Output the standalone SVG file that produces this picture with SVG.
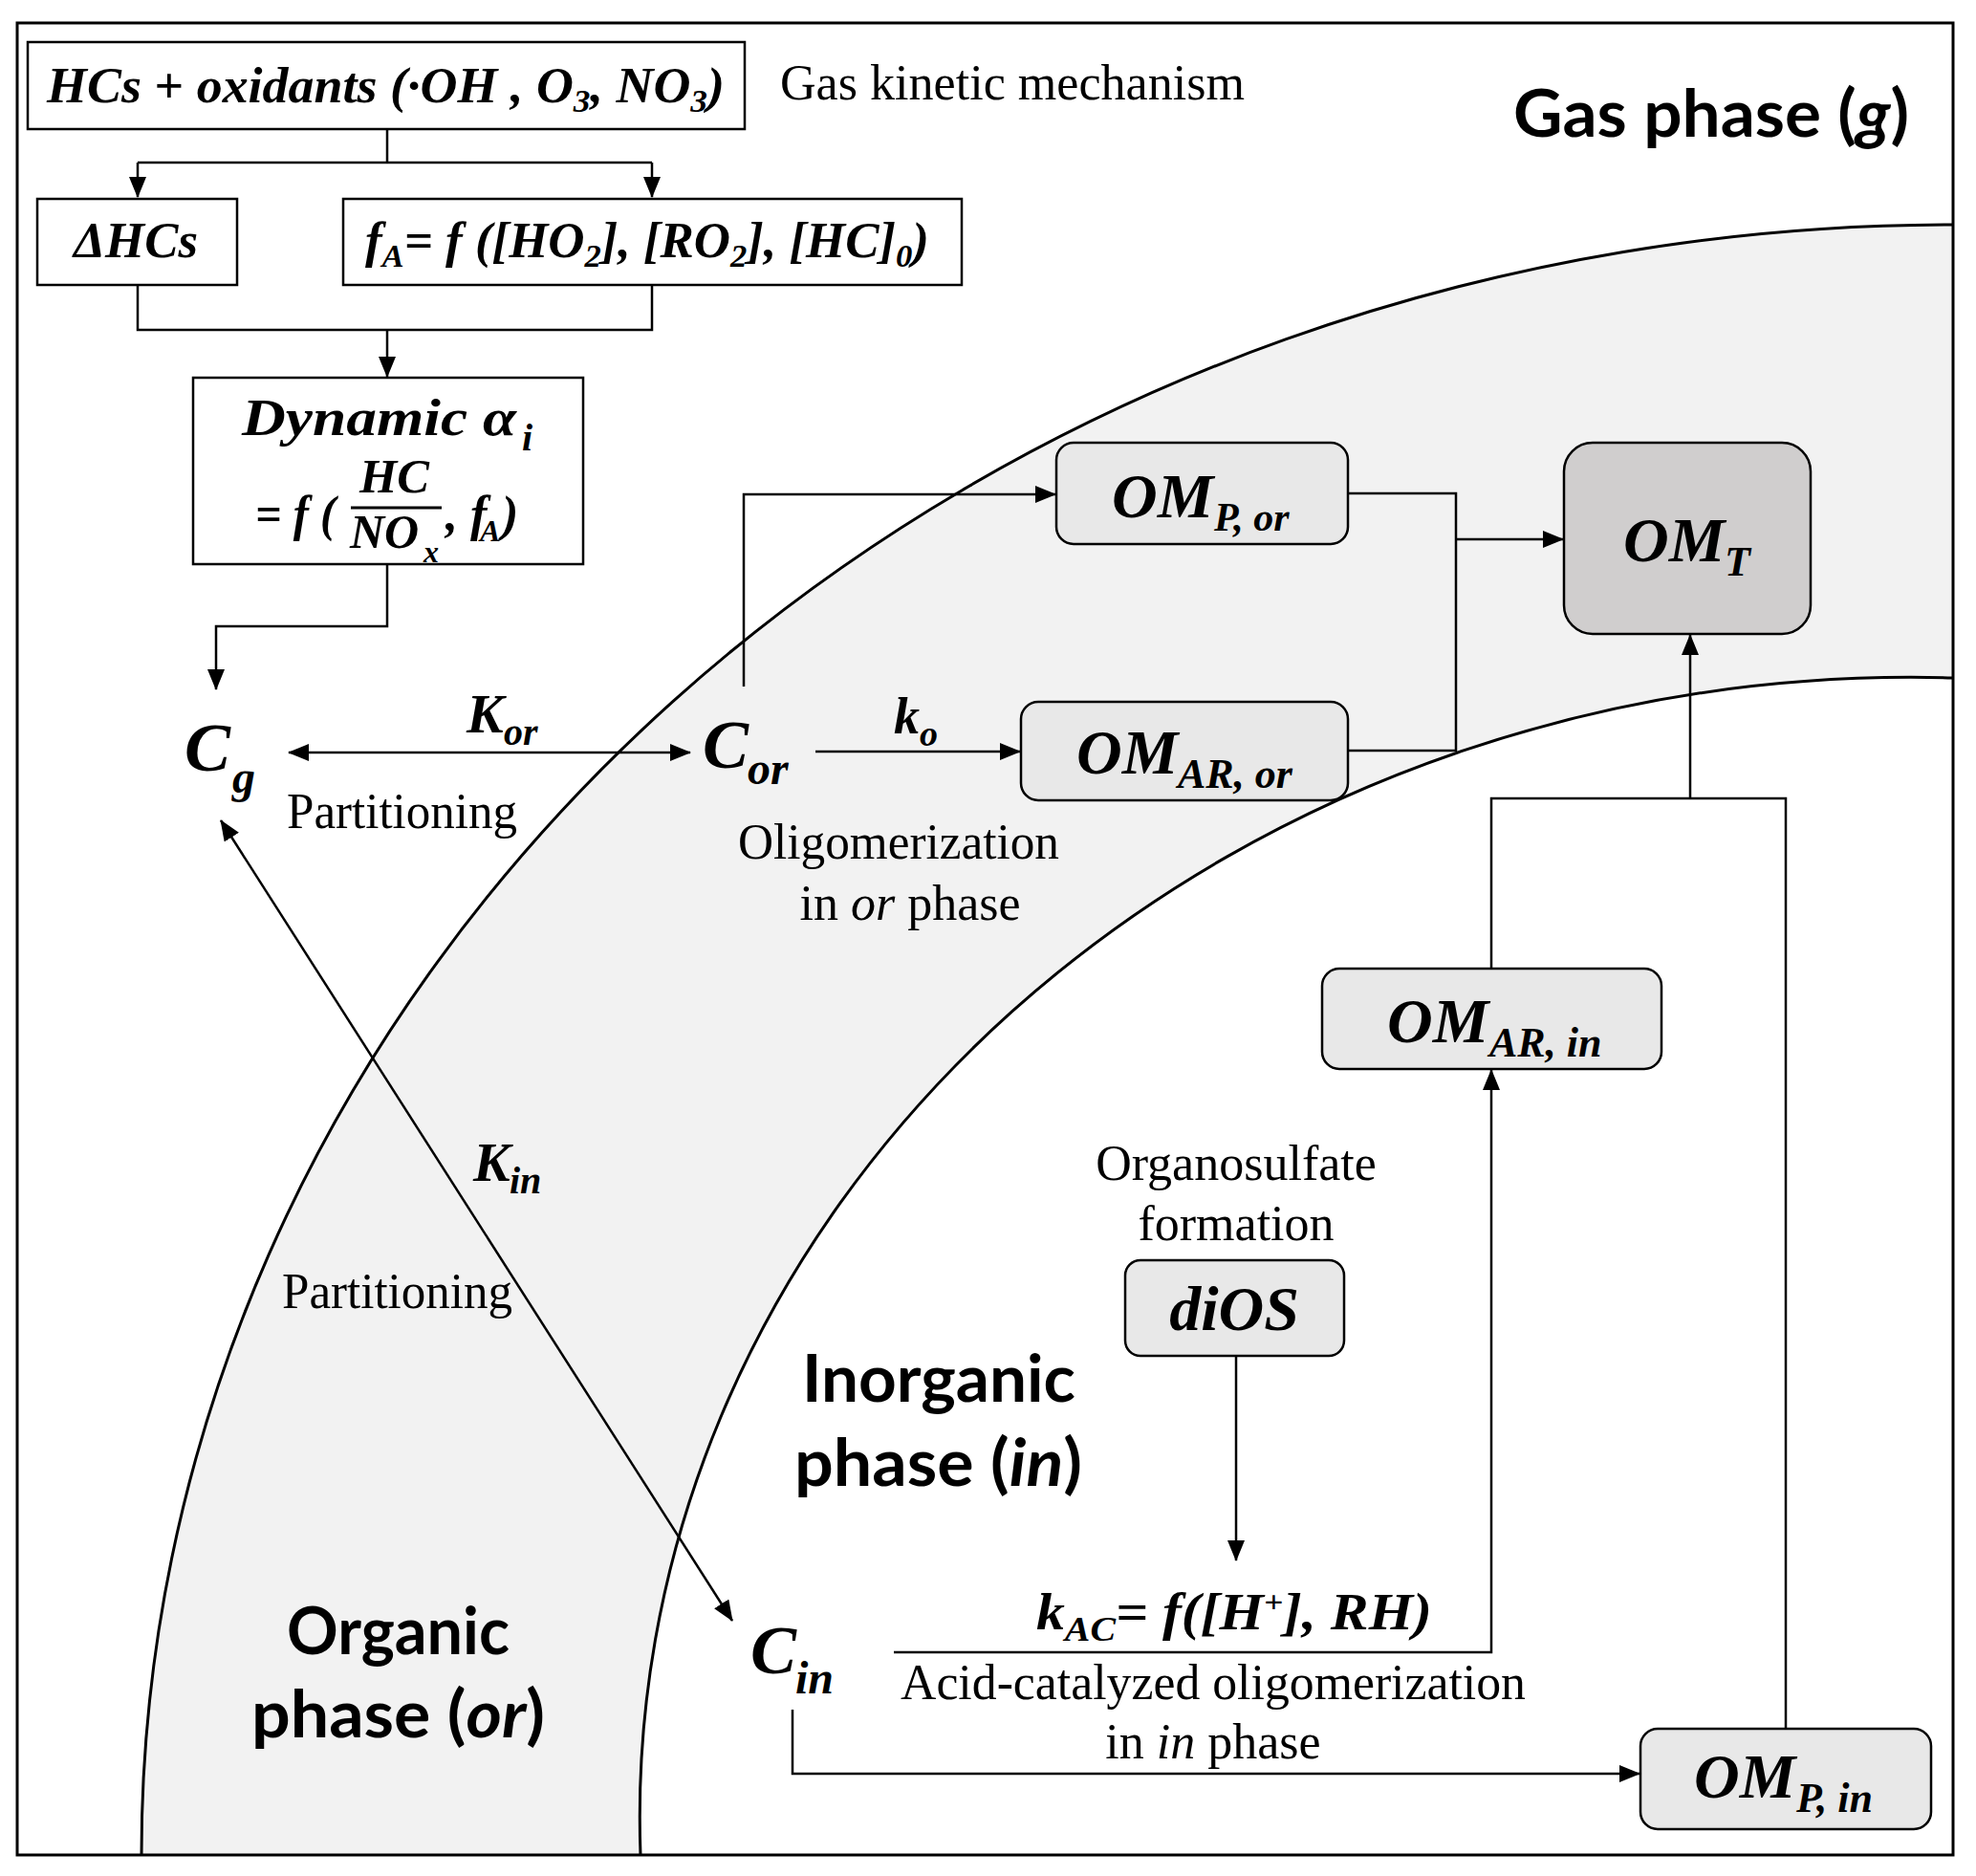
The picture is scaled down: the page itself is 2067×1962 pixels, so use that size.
<svg xmlns="http://www.w3.org/2000/svg" width="2067" height="1962" viewBox="0 0 2067 1962">
<defs>
<style>
.ser{font-family:"Liberation Serif","Times New Roman",serif;fill:#000}
.bi{font-family:"Liberation Serif","Times New Roman",serif;font-weight:bold;font-style:italic;fill:#000}
.sans{font-family:Lato,"Open Sans","Liberation Sans",sans-serif;font-weight:bold;fill:#000}
.box{fill:#fff;stroke:#000;stroke-width:2.5}
.om{fill:#e8e8e8;stroke:#000;stroke-width:2.5}
.ln{fill:none;stroke:#000;stroke-width:2.5}
.arc{fill:none;stroke:#000;stroke-width:3}
</style>
<marker id="ah" markerUnits="userSpaceOnUse" markerWidth="22" markerHeight="18" refX="21" refY="9" orient="auto-start-reverse">
<path d="M0,0 L22,9 L0,18 Z" fill="#000"/>
</marker>
</defs>
<rect x="0" y="0" width="2067" height="1962" fill="#fff"/>
<g id="phases">
<path d="M148,1940 A1895,1705 0 0 1 2043,235 L2043,709 A1331,1192 0 0 0 670,1940 Z" fill="#f2f2f2"/>
<path class="arc" d="M148,1940 A1895,1705 0 0 1 2043,235"/>
<path class="arc" d="M670,1940 A1331,1192 0 0 1 2043,709"/>
<rect x="18" y="24" width="2025" height="1916" fill="none" stroke="#000" stroke-width="3"/>
<text class="sans" x="1583" y="143" font-size="68" textLength="414" lengthAdjust="spacingAndGlyphs">Gas phase (<tspan font-style="italic">g</tspan>)</text>
<text class="sans" x="300" y="1730" font-size="68" textLength="233" lengthAdjust="spacingAndGlyphs">Organic</text>
<text class="sans" x="263" y="1817" font-size="68" textLength="307" lengthAdjust="spacingAndGlyphs">phase (<tspan font-style="italic">or</tspan>)</text>
<text class="sans" x="839" y="1466" font-size="68" textLength="286" lengthAdjust="spacingAndGlyphs">Inorganic</text>
<text class="sans" x="831" y="1554" font-size="68" textLength="301" lengthAdjust="spacingAndGlyphs">phase (<tspan font-style="italic">in</tspan>)</text>
</g>
<g id="connectors">
<path class="ln" d="M405,135 V170 M144,170 H682"/>
<path class="ln" d="M144,170 V206" marker-end="url(#ah)"/>
<path class="ln" d="M682,170 V206" marker-end="url(#ah)"/>
<path class="ln" d="M144,298 V345 H682 V298"/>
<path class="ln" d="M405,345 V394" marker-end="url(#ah)"/>
<path class="ln" d="M405,590 V655 H226 V721" marker-end="url(#ah)"/>
<path class="ln" d="M302,787 H722" marker-start="url(#ah)" marker-end="url(#ah)"/>
<path class="ln" d="M778,718 V517 H1104" marker-end="url(#ah)"/>
<path class="ln" d="M853,786 H1067" marker-end="url(#ah)"/>
<path class="ln" d="M1410,516 H1523 V785 H1410"/>
<path class="ln" d="M1523,564 H1635" marker-end="url(#ah)"/>
<path class="ln" d="M1768,835 V664" marker-end="url(#ah)"/>
<path class="ln" d="M1560,1013 V835 H1868 V1808"/>
<path class="ln" d="M935,1728 H1560 V1119" marker-end="url(#ah)"/>
<path class="ln" d="M1293,1418 V1632" marker-end="url(#ah)"/>
<path class="ln" d="M829,1788 V1855 H1715" marker-end="url(#ah)"/>
<path class="ln" d="M231,858 L766,1695" marker-start="url(#ah)" marker-end="url(#ah)"/>
</g>
<g id="n-hcs">
<rect class="box" x="29" y="44" width="750" height="91"/>
<text class="bi" x="49" y="107" font-size="52" textLength="709" lengthAdjust="spacingAndGlyphs">HCs <tspan font-style="normal">+</tspan> oxidants (·OH , O<tspan font-size="34" dy="10">3</tspan><tspan dy="-10">, NO</tspan><tspan font-size="34" dy="10">3</tspan><tspan dy="-10">)</tspan></text>
</g>
<g id="lbl-gkm"><text class="ser" x="816" y="104" font-size="52" textLength="486" lengthAdjust="spacingAndGlyphs">Gas kinetic mechanism</text></g>
<g id="n-dhcs">
<rect class="box" x="39" y="208" width="209" height="90"/>
<text class="bi" x="77" y="269" font-size="52" textLength="130" lengthAdjust="spacingAndGlyphs">ΔHCs</text>
</g>
<g id="n-fa">
<rect class="box" x="359" y="208" width="647" height="90"/>
<text class="bi" x="382" y="269" font-size="52" textLength="590" lengthAdjust="spacingAndGlyphs">f<tspan font-size="34" dy="10">A</tspan><tspan dy="-10">= f ([HO</tspan><tspan font-size="34" dy="10">2</tspan><tspan dy="-10">], [RO</tspan><tspan font-size="34" dy="10">2</tspan><tspan dy="-10">], [HC]</tspan><tspan font-size="34" dy="10">0</tspan><tspan dy="-10">)</tspan></text>
</g>
<g id="n-dyn">
<rect class="box" x="202" y="395" width="408" height="195"/>
<text class="bi" x="253" y="455" font-size="54" textLength="287" lengthAdjust="spacingAndGlyphs">Dynamic α</text>
<text class="bi" x="546" y="471" font-size="40">i</text>
<text class="bi" x="267" y="555" font-size="52" textLength="84" lengthAdjust="spacingAndGlyphs">= f (</text>
<text class="bi" x="376" y="515" font-size="50" textLength="73" lengthAdjust="spacingAndGlyphs">HC</text>
<line x1="367" y1="531" x2="462" y2="531" stroke="#000" stroke-width="3"/>
<text class="bi" x="366" y="573" font-size="50">NO<tspan x="443" dy="15" font-size="32">x</tspan></text>
<text class="bi" x="466" y="555" font-size="52">, f<tspan x="502" dy="11" font-size="32">A</tspan><tspan x="525" dy="-11" font-size="52">)</tspan></text>
</g>
<g id="n-cg">
<text class="bi" x="193" y="806" font-size="72">C</text>
<text class="bi" x="243" y="829" font-size="48">g</text>
</g>
<g id="lbl-kor">
<text class="bi" x="488" y="766" font-size="58">K</text>
<text class="bi" x="527" y="779" font-size="40">or</text>
<text class="ser" x="300" y="866" font-size="52" textLength="241" lengthAdjust="spacingAndGlyphs">Partitioning</text>
</g>
<g id="n-cor">
<text class="bi" x="735" y="803" font-size="72">C</text>
<text class="bi" x="782" y="820" font-size="48">or</text>
</g>
<g id="lbl-ko">
<text class="bi" x="935" y="767" font-size="54">k</text>
<text class="bi" x="962" y="780" font-size="38">o</text>
<text class="ser" x="940" y="898" font-size="52" text-anchor="middle" textLength="336" lengthAdjust="spacingAndGlyphs">Oligomerization</text>
<text class="ser" x="952" y="962" font-size="52" text-anchor="middle">in <tspan font-style="italic">or</tspan> phase</text>
</g>
<g id="n-omp-or">
<rect class="om" x="1105" y="463" width="305" height="106" rx="18"/>
<text class="bi" x="1163" y="541" font-size="66">OM</text>
<text class="bi" x="1270" y="555" font-size="42">P, or</text>
</g>
<g id="n-omar-or">
<rect class="om" x="1068" y="734" width="342" height="103" rx="18"/>
<text class="bi" x="1126" y="809" font-size="66">OM</text>
<text class="bi" x="1232" y="824" font-size="44">AR, or</text>
</g>
<g id="n-omt">
<rect x="1636" y="463" width="258" height="200" rx="30" fill="#d0cece" stroke="#000" stroke-width="2.5"/>
<text class="bi" x="1698" y="587" font-size="66">OM</text>
<text class="bi" x="1804" y="602" font-size="44">T</text>
</g>
<g id="lbl-kin">
<text class="bi" x="495" y="1235" font-size="58">K</text>
<text class="bi" x="533" y="1248" font-size="40">in</text>
<text class="ser" x="295" y="1368" font-size="52" textLength="241" lengthAdjust="spacingAndGlyphs">Partitioning</text>
</g>
<g id="n-omar-in">
<rect class="om" x="1383" y="1013" width="355" height="105" rx="18"/>
<text class="bi" x="1451" y="1090" font-size="66">OM</text>
<text class="bi" x="1558" y="1105" font-size="44">AR, in</text>
</g>
<g id="n-dios">
<text class="ser" x="1293" y="1234" font-size="52" text-anchor="middle">Organosulfate</text>
<text class="ser" x="1293" y="1297" font-size="52" text-anchor="middle">formation</text>
<rect class="om" x="1177" y="1318" width="229" height="100" rx="16"/>
<text class="bi" x="1291" y="1391" font-size="66" text-anchor="middle">diOS</text>
</g>
<g id="lbl-kac">
<text class="bi" x="1084" y="1704" font-size="54" textLength="414" lengthAdjust="spacingAndGlyphs">k<tspan font-size="36" dy="12">AC</tspan><tspan dy="-12">= f([H</tspan><tspan font-size="32" dy="-18">+</tspan><tspan dy="18">], RH)</tspan></text>
<text class="ser" x="1269" y="1777" font-size="52" text-anchor="middle" textLength="654" lengthAdjust="spacingAndGlyphs">Acid-catalyzed oligomerization</text>
<text class="ser" x="1269" y="1839" font-size="52" text-anchor="middle">in <tspan font-style="italic">in</tspan> phase</text>
</g>
<g id="n-cin">
<text class="bi" x="785" y="1750" font-size="72">C</text>
<text class="bi" x="832" y="1771" font-size="48">in</text>
</g>
<g id="n-omp-in">
<rect class="om" x="1716" y="1808" width="304" height="105" rx="18"/>
<text class="bi" x="1772" y="1880" font-size="66">OM</text>
<text class="bi" x="1879" y="1895" font-size="44">P, in</text>
</g>
</svg>
